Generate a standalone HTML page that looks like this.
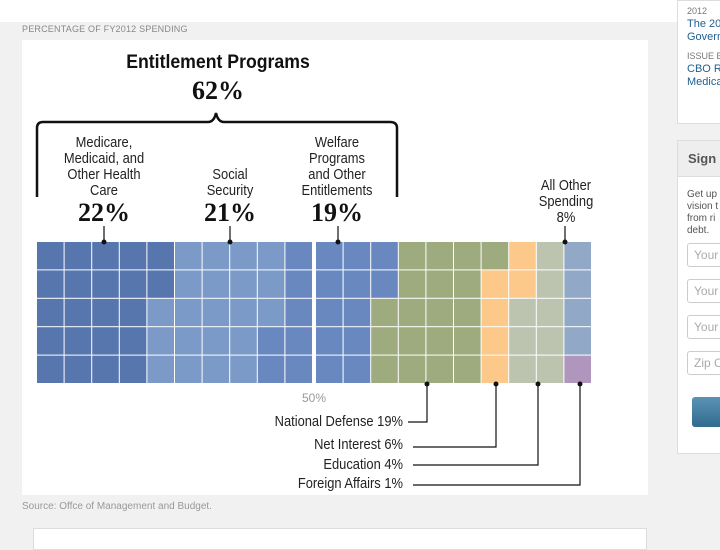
<!DOCTYPE html>
<html><head><meta charset="utf-8"><style>
body{margin:0;width:720px;height:540px;overflow:hidden;background:#f1f1f1;font-family:"Liberation Sans",sans-serif;position:relative}
.a{position:absolute}
.cond{font-family:"Liberation Sans",sans-serif;color:#222;transform:scaleX(0.86)}
.pct{font-family:"Liberation Serif",serif;font-weight:bold;font-size:26px;color:#111}
.inp{margin:12px 0 0 9px;height:24px;border:1px solid #ccc;border-radius:3px;color:#aaa;font-size:12px;padding:4px 6px;box-sizing:border-box;white-space:nowrap;overflow:hidden}
</style></head><body>
<div class="a" style="left:0;top:0;width:720px;height:22px;background:#fff"></div>
<div class="a" style="left:22px;top:40px;width:626px;height:455px;background:#fff"></div>
<div class="a" style="left:22px;top:24px;font-size:9px;color:#888;letter-spacing:0.2px">PERCENTAGE OF FY2012 SPENDING</div>
<div class="a" style="left:22px;top:501px;font-size:10px;color:#999">Source: Offce of Management and Budget.</div>
<div class="a" style="left:33px;top:528px;width:612px;height:20px;background:#fff;border:1px solid #ddd"></div>
<div class="a" style="left:677px;top:0;width:50px;height:118px;background:#fff;border:1px solid #ddd;font-size:11px;line-height:13px;color:#1f5f8f;padding:4px 0 0 9px;white-space:nowrap;overflow:hidden">
<div style="color:#777;font-size:9px">2012</div><div>The 20</div><div>Govern</div><div style="color:#777;font-size:9px;margin-top:6px">ISSUE B</div><div>CBO R</div><div>Medica</div></div>
<div class="a" style="left:677px;top:140px;width:50px;height:312px;background:#fff;border:1px solid #ddd">
<div style="height:36px;background:#eee;border-bottom:1px solid #ddd;font:bold 13px 'Liberation Sans';color:#555;padding:10px 0 0 10px;box-sizing:border-box;white-space:nowrap">Sign u</div>
<div style="font-size:10px;color:#555;padding:12px 0 0 9px;line-height:12px;white-space:nowrap">Get up<br>vision t<br>from ri<br>debt.</div>
<div class="inp" style="margin-top:6px">Your</div>
<div class="inp">Your</div>
<div class="inp">Your</div>
<div class="inp">Zip C</div>
<div style="margin:22px 0 0 14px;height:30px;background:linear-gradient(#5b93b5,#2f6b8d);border-radius:3px"></div>
</div>

<div class="a" style="left:108px;top:52px;width:220px;text-align:center;font-weight:bold;font-size:19px;color:#111;transform:scaleX(0.93)">Entitlement Programs</div>
<div class="a pct" style="left:168px;top:76px;width:100px;text-align:center">62%</div>
<svg class="a" id="grid" style="left:0;top:0" width="720" height="540"></svg>
<svg class="a" style="left:0;top:0" width="720" height="540">
<path d="M37,197 V128 Q37,122 43,122 H208 Q214,122 216,113 Q218,122 224,122 H390 Q397,122 397,128 V197" fill="none" stroke="#111" stroke-width="2.5"/>
<g stroke="#111" stroke-width="1.2" fill="none">
<path d="M104,226V242M230,226V242M338,226V242M565,226V242"/>
<path d="M427,384V422H408M496,384V447H413M538,384V465H413M580,384V485H413"/>
</g>
<g fill="#111"><circle cx="104" cy="242" r="2.5"/><circle cx="230" cy="242" r="2.5"/><circle cx="338" cy="242" r="2.5"/><circle cx="565" cy="242" r="2.5"/>
<circle cx="427" cy="384" r="2.5"/><circle cx="496" cy="384" r="2.5"/><circle cx="538" cy="384" r="2.5"/><circle cx="580" cy="384" r="2.5"/></g>
</svg>
<div class="a cond" style="left:44px;top:135px;width:120px;text-align:center;font-size:15px;line-height:16px">Medicare,<br>Medicaid, and<br>Other Health<br>Care</div>
<div class="a pct" style="left:54px;top:198px;width:100px;text-align:center">22%</div>
<div class="a cond" style="left:180px;top:167px;width:100px;text-align:center;font-size:15px;line-height:16px">Social<br>Security</div>
<div class="a pct" style="left:180px;top:198px;width:100px;text-align:center">21%</div>
<div class="a cond" style="left:277px;top:135px;width:120px;text-align:center;font-size:15px;line-height:16px">Welfare<br>Programs<br>and Other<br>Entitlements</div>
<div class="a pct" style="left:287px;top:198px;width:100px;text-align:center">19%</div>
<div class="a cond" style="left:516px;top:178px;width:100px;text-align:center;font-size:15px;line-height:16px">All Other<br>Spending<br>8%</div>
<div class="a" style="left:294px;top:391px;width:40px;text-align:center;font-size:12px;color:#999">50%</div>
<div class="a cond" style="left:203px;top:413px;width:200px;text-align:right;font-size:15px;transform-origin:right">National Defense 19%</div>
<div class="a cond" style="left:203px;top:436px;width:200px;text-align:right;font-size:15px;transform-origin:right">Net Interest 6%</div>
<div class="a cond" style="left:203px;top:456px;width:200px;text-align:right;font-size:15px;transform-origin:right">Education 4%</div>
<div class="a cond" style="left:203px;top:475px;width:200px;text-align:right;font-size:15px;transform-origin:right">Foreign Affairs 1%</div>
<script>
const categories=["Medicare","Social Security","Welfare","National Defense","Net Interest","All Other","Education","Foreign Affairs"];
const values=[22,21,19,19,6,8,4,1];
const colors=["#5876ae","#7b9ac8","#6a88c0","#9eab7e","#fcc98a","#bcc4b0","#91a8c6","#b096bc"];
const svg=document.getElementById('grid');
const NS="http://www.w3.org/2000/svg";
const x0=37,y0=242,cw=27.6,ch=28.4,gap=3,rows=5;
function cx(col){return x0+col*cw+(col>=10?gap:0);}
function cy(row){return y0+row*ch;}
let idx=0;
values.forEach((v,ci)=>{
  for(let k=0;k<v;k++){
    const col=Math.floor(idx/rows),row=idx%rows;
    const r=document.createElementNS(NS,'rect');
    r.setAttribute('x',cx(col));r.setAttribute('y',cy(row));
    r.setAttribute('width',cw-1);r.setAttribute('height',ch-1);
    r.setAttribute('fill',colors[ci]);
    
    
    svg.appendChild(r);idx++;
  }
});
</script>
</body></html>
